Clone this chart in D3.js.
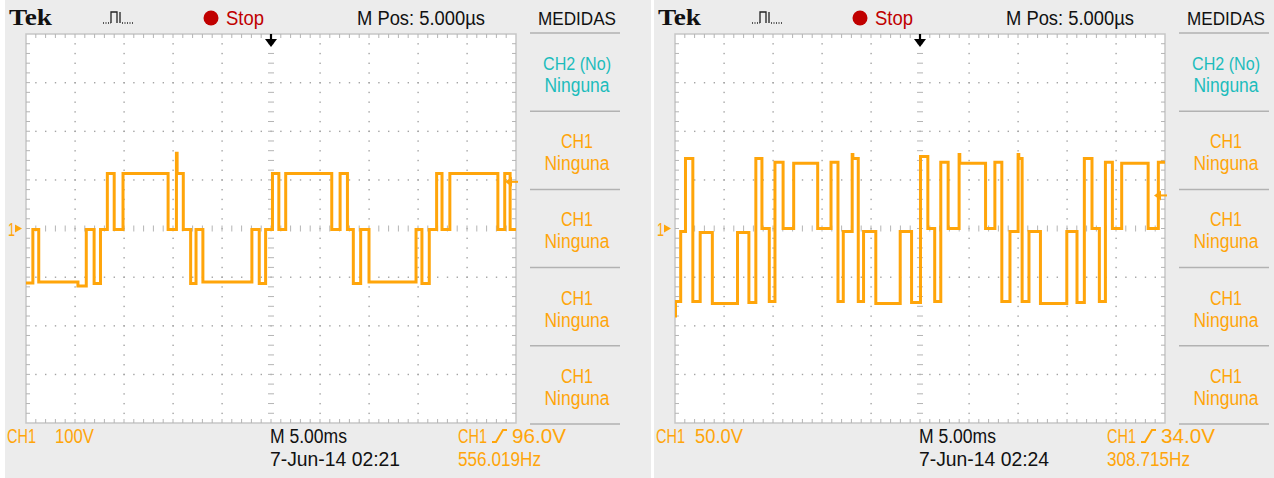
<!DOCTYPE html>
<html>
<head>
<meta charset="utf-8">
<title>Tek captures</title>
<script src="https://cdnjs.cloudflare.com/ajax/libs/d3/7.8.5/d3.min.js"></script>
</head>
<style>
  body { margin: 0; background: #fff; }
  svg { display: block; }
  text { font-family: "Liberation Sans Narrow", "Liberation Sans", Arial, sans-serif; }
</style>
<body>
<svg id="svg" width="1274" height="478"></svg>
<script>

// left capture, CH1 100V/div, 5ms/div (times in ms from trigger, level after each edge in V)
const leftTimes = [-25, -24.3, -23.7, -19.7, -18.85, -18.05, -17.4, -16.7, -16.0, -15.1, -10.5, -9.65, -9.58, -8.95, -8.2, -7.65, -6.95,
  -1.95, -1.2, -0.55, 0.15, 0.8, 1.5, 6.2, 7.05, 7.8, 8.4, 9.15, 10.0, 14.8, 15.4, 16.15, 16.9, 17.45, 18.25, 23.15, 23.85, 24.4, 25];
const leftVolts = [-112, -2, -110, -118, -2, -113, -2, 113, -2, 113, -2, 155, 113, -2, -113, -2, -110,
  -2, -113, -2, 113, -2, 113, -2, 113, -2, -113, -2, -110, -2, -113, -2, 113, -2, 113, -2, 113, -2, -2];

// right capture, CH1 50V/div, 5ms/div
const rightTimes = [-25, -24.95, -24.42, -23.93, -23.18, -22.43, -21.19, -18.62, -17.46, -16.75, -16.13, -15.38, -14.80, -13.97,
  -12.89, -10.44, -9.08, -8.37, -7.83, -6.92, -6.85, -6.30, -5.76, -4.51, -2.02, -0.86, 0.05, 0.80, 1.50, 2.12, 2.87,
  3.99, 4.06, 6.69, 7.64, 8.35, 9.18, 10.01, 10.08, 10.42, 11.12, 12.29, 14.98, 16.02, 16.77, 17.55, 18.30, 18.92, 19.63,
  20.58, 23.28, 24.32, 25];
const rightVolts = [-90, -75, -3, 72, -75, -4, -77, -4, -76, 72, 0, -75, 68, 0,
  67, 0, 68, -75, -3, 76, 72, -75, -3, -77, -3, -76, 74, 0, -75, 68, 0,
  76, 67, 0, 68, -75, -3, 76, 72, -75, -3, -77, -3, -76, 72, 0, -75, 68, 0,
  67, 0, 68, 68];

const voltsPerDiv = [100, 50];
const scaleLabels = ['100V', '50.0V'];
const triggerVolts = [96.0, 34.0];
const triggerLabels = ['96.0V', '34.0V'];
const stamps = ['7-Jun-14 02:21', '7-Jun-14 02:24'];
const freqLabels = ['556.019Hz', '308.715Hz'];
const menuTop = ['CH2 (No)', 'CH1', 'CH1', 'CH1', 'CH1'];
const menuBottom = ['Ninguna', 'Ninguna', 'Ninguna', 'Ninguna', 'Ninguna'];

const traces = [
  leftTimes.map((t, i) => [t, leftVolts[i]]),
  rightTimes.map((t, i) => [t, rightVolts[i]]),
];

const orange = '#ffa50a';
const svg = d3.select('#svg');
svg.append('rect').attr('width', 1274).attr('height', 478).attr('fill', '#fff');

function label(g, str, x, yb, w, fill, size) {
  return g.append('text')
    .attr('x', x).attr('y', yb)
    .attr('textLength', w).attr('lengthAdjust', 'spacingAndGlyphs')
    .attr('font-size', size || 20)
    .attr('fill', fill)
    .text(str);
}

[0, 649].forEach((ox, p) => {
  const g = svg.append('g').attr('transform', `translate(${ox},0)`);
  g.append('rect').attr('x', 5).attr('y', 0).attr('width', 646).attr('height', 478).attr('fill', '#ececec');

  const xd = d3.scaleLinear().domain([-5, 5]).range([26, 516]); // divisions
  const yd = d3.scaleLinear().domain([-4, 4]).range([423, 34]);
  const x = d3.scaleLinear().domain([-25, 25]).range([26, 516]); // ms
  const y = d3.scaleLinear().domain([-4 * voltsPerDiv[p], 4 * voltsPerDiv[p]]).range([423, 34]);

  g.append('rect').attr('x', 26).attr('y', 34).attr('width', 490).attr('height', 389)
    .attr('fill', '#fff').attr('stroke', '#c6c6c6').attr('stroke-width', 1.5);

  // graticule dots
  const dots = [];
  d3.range(-4, 5).filter(v => v !== 0).forEach(v => {
    d3.range(-19, 20).forEach(k => dots.push([xd(v), yd(k / 5)]));
  });
  d3.range(-3, 4).filter(v => v !== 0).forEach(v => {
    d3.range(-24, 25).forEach(k => dots.push([xd(k / 5), yd(v)]));
  });
  g.append('g').selectAll('rect').data(dots).enter().append('rect')
    .attr('x', d => d[0] - 0.6).attr('y', d => d[1] - 0.6)
    .attr('width', 1.4).attr('height', 1.4).attr('fill', '#a4a4a4');

  // center cross and border ticks
  const ticks = [];
  d3.range(-19, 20).forEach(k => {
    const yy = yd(k / 5);
    ticks.push([xd(0) - 3, yy, xd(0) + 3, yy]);
    ticks.push([26, yy, 30, yy]);
    ticks.push([512, yy, 516, yy]);
  });
  d3.range(-24, 25).forEach(k => {
    const xx = xd(k / 5);
    ticks.push([xx, yd(0) - 3, xx, yd(0) + 3]);
    ticks.push([xx, 34, xx, 38]);
    ticks.push([xx, 419, xx, 423]);
  });
  g.append('g').selectAll('line').data(ticks).enter().append('line')
    .attr('x1', d => d[0]).attr('y1', d => d[1]).attr('x2', d => d[2]).attr('y2', d => d[3])
    .attr('stroke', '#b4b4b4').attr('stroke-width', 1);

  // trace
  const clipId = 'clip' + p;
  g.append('clipPath').attr('id', clipId).append('rect').attr('x', 26).attr('y', 34).attr('width', 490).attr('height', 389);
  const line = d3.line().x(d => x(d[0])).y(d => y(d[1])).curve(d3.curveStepAfter);
  g.append('path').datum(traces[p]).attr('clip-path', `url(#${clipId})`)
    .attr('d', line).attr('fill', 'none').attr('stroke', orange)
    .attr('stroke-width', 3).attr('stroke-linejoin', 'miter');

  // trigger position arrow
  const cx = xd(0);
  g.append('line').attr('x1', cx).attr('x2', cx).attr('y1', 34).attr('y2', 42).attr('stroke', '#000').attr('stroke-width', 2.2);
  g.append('path').attr('d', `M${cx - 6},39L${cx + 6},39L${cx},47Z`).attr('fill', '#000');

  // trigger level arrow
  const ty = y(triggerVolts[p]);
  g.append('path').attr('d', `M505,${ty}L512,${ty - 5}L512,${ty + 5}Z`).attr('fill', orange);
  g.append('line').attr('x1', 510).attr('x2', 518).attr('y1', ty).attr('y2', ty).attr('stroke', orange).attr('stroke-width', 2);

  // ground marker
  const gy = y(0);
  label(g, '1', 8, gy + 7, 7, orange, 18);
  g.append('path').attr('d', `M15,${gy - 4}L22,${gy}L15,${gy + 4}Z`).attr('fill', orange);

  // header
  g.append('text').attr('x', 9).attr('y', 25).attr('textLength', 43).attr('lengthAdjust', 'spacingAndGlyphs')
    .style('font-family', '"Liberation Serif", "DejaVu Serif", serif').attr('font-weight', 'bold')
    .attr('font-size', 24).attr('fill', '#111').text('Tek');
  g.append('path').attr('d', 'M111,23V12H117V23M120,12V23')
    .attr('fill', 'none').attr('stroke', '#222').attr('stroke-width', 1.3);
  g.append('path').attr('d', 'M103,23H111M122,23H133')
    .attr('fill', 'none').attr('stroke', '#222').attr('stroke-width', 1.3).attr('stroke-dasharray', '1,1.5');
  g.append('circle').attr('cx', 211).attr('cy', 18).attr('r', 7.5).attr('fill', '#c00000');
  label(g, 'Stop', 226, 25, 38, '#c00000');
  label(g, 'M Pos: 5.000µs', 357, 25, 128, '#111');
  label(g, 'MEDIDAS', 538, 25, 78, '#111', 18);

  // measurement menu
  d3.range(6).forEach(k => {
    const sy = 33 + 78.2 * k;
    g.append('line').attr('x1', 530).attr('x2', 620).attr('y1', sy).attr('y2', sy)
      .attr('stroke', '#b2b2b2').attr('stroke-width', 1.5);
  });
  menuTop.forEach((s, k) => {
    const top = 33 + 78.2 * k;
    const col = k === 0 ? '#1cbcbc' : orange;
    const w1 = s.length > 4 ? 68 : 32;
    label(g, s, 577 - w1 / 2, top + 37, w1, col, s.length > 4 ? 18 : 20);
    label(g, menuBottom[k], 577 - 32.5, top + 59, 65, col);
  });

  // footer
  label(g, 'CH1', 7, 443, 29, orange);
  const sw = scaleLabels[p].length > 4 ? 48 : 39;
  label(g, scaleLabels[p], 94 - sw, 443, sw, orange);
  label(g, 'M 5.00ms', 270, 443, 77, '#111');
  label(g, stamps[p], 270, 466, 130, '#111');
  label(g, 'CH1', 458, 443, 29, orange);
  g.append('path').attr('d', 'M492,442H496L503,430H507').attr('fill', 'none').attr('stroke', orange).attr('stroke-width', 2);
  label(g, triggerLabels[p], 512, 443, 54, orange);
  label(g, freqLabels[p], 458, 466, 83, orange);
});

</script>
</body>
</html>
